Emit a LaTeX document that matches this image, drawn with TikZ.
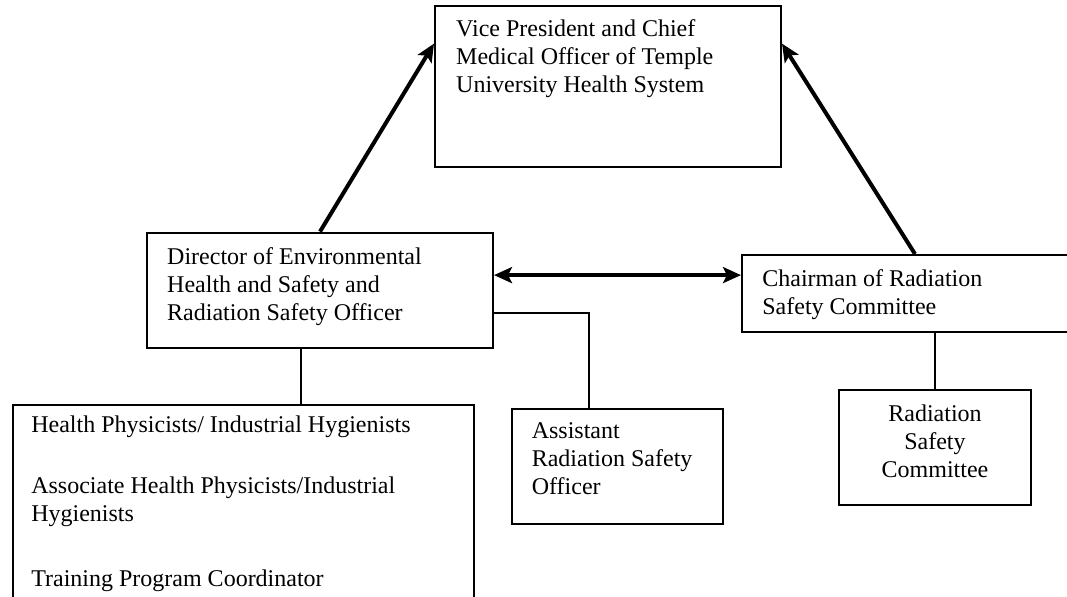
\documentclass[tikz,border=0pt]{standalone}
\usepackage{fontspec}
\setmainfont{Liberation Serif}
\usetikzlibrary{positioning,arrows.meta}

\tikzset{
  orgbox/.style={draw, line width=1pt, rectangle, inner sep=0pt},
  orgtext/.style={inner sep=0pt, align=left, font=\fontsize{12pt}{14pt}\selectfont},
  linkline/.style={line width=0.9pt},
  reportarrow/.style={line width=2pt, -{Stealth[length=9pt,width=8pt,inset=2pt]}},
  bothwayarrow/.style={line width=2pt, {Stealth[length=9pt,width=8pt,inset=2pt]}-{Stealth[length=9pt,width=8pt,inset=2pt]}}
}

\begin{document}
\begin{tikzpicture}[x=0.5pt,y=-0.5pt]
% Drawing area
\useasboundingbox (0,0) rectangle (1067,596);
\clip (0,0) rectangle (1067,596);

% Drawing boxes
\node [orgbox, minimum width=173pt, minimum height=80.5pt] (vp) at (608,86.5) {};
\node [orgbox, minimum width=173pt, minimum height=57.7pt] (dir) at (320,290.3) {};
\node [orgbox, minimum width=173pt, minimum height=38.5pt] (chair) at (915,293.5) {};
\node [orgbox, minimum width=230.3pt, minimum height=107.5pt] (staff) at (243.2,512.5) {};
\node [orgbox, minimum width=105.7pt, minimum height=57.7pt] (asst) at (617.7,466.7) {};
\node [orgbox, minimum width=96pt, minimum height=57.5pt] (rsc) at (935,447.5) {};

% Drawing texts
\node [orgtext, below right=7pt and 10.9pt of vp.north west] (vptext)
  {Vice President and Chief\\Medical Officer of Temple\\University Health System};
\node [orgtext, below right=7.9pt and 10.4pt of dir.north west] (dirtext)
  {Director of Environmental\\Health and Safety and\\Radiation Safety Officer};
\node [orgtext, below right=7.5pt and 10.5pt of chair.north west] (chairtext)
  {Chairman of Radiation\\Safety Committee};
\node [orgtext, below right=5.8pt and 9.5pt of staff.north west] (stafftext)
  {Health Physicists/ Industrial Hygienists\\[16.5pt]
   Associate Health Physicists/Industrial\\Hygienists\\[18.5pt]
   Training Program Coordinator};
\node [orgtext, below right=7.3pt and 10.2pt of asst.north west] (assttext)
  {Assistant\\Radiation Safety\\Officer};
\node [orgtext, align=center, below=7.5pt of rsc.north] (rsctext)
  {Radiation\\Safety\\Committee};

% Drawing arrows
\draw [reportarrow] (dir.north) -- ([yshift=-19.3pt]vp.north west);
\draw [reportarrow] (chair.north) -- ([yshift=-19.3pt]vp.north east);
\draw [bothwayarrow] ([yshift=7.6pt]dir.east) -- ([yshift=7.6pt]dir.east -| chair.west);

% Drawing lines
\draw [linkline] ([xshift=-9.5pt]dir.south) -- ([xshift=-9.5pt]dir.south |- staff.north);
\draw [linkline] ([yshift=-11.3pt]dir.east) -| ([xshift=-14.5pt]asst.north);
\draw [linkline] (rsc.north) -- (rsc.north |- chair.south);
\end{tikzpicture}
\end{document}
